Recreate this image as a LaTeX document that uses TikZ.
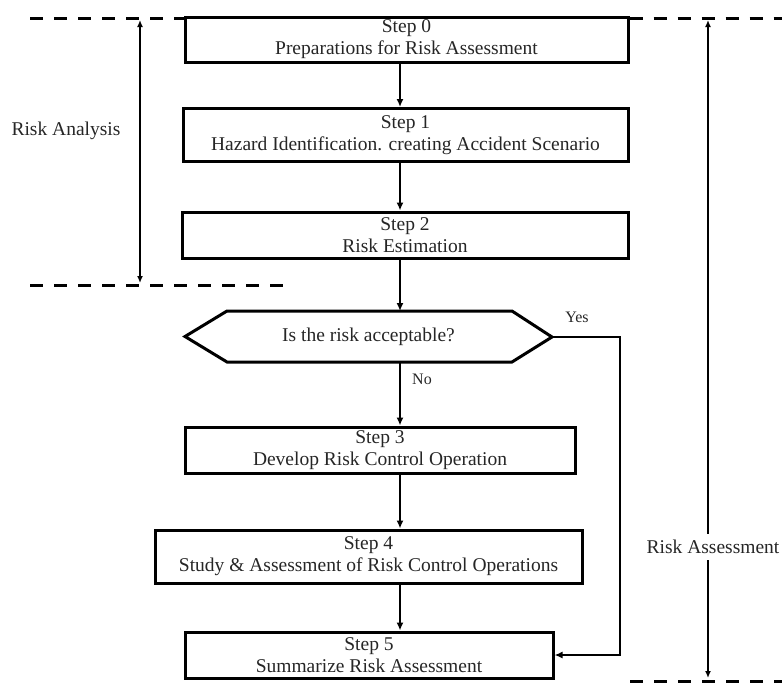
\documentclass[tikz,border=0pt]{standalone}
\usepackage{fontspec}
\setmainfont{Liberation Serif}
\usetikzlibrary{arrows.meta}
\begin{document}
\begin{tikzpicture}[x=1pt,y=-1pt,
  txt/.style={font=\fontsize{19.5}{22}\selectfont, text=black!85, inner sep=0pt},
  small/.style={font=\fontsize{16}{18}\selectfont, text=black!85, inner sep=0pt},
  stepbox/.style={txt, draw=black, line width=3pt, align=center},
  hexline/.style={draw=black, line width=3pt, line join=miter},
  flow/.style={line width=2.6pt, -{Latex[length=8pt,width=7pt]}},
  dimline/.style={line width=2.4pt, {Latex[length=7pt,width=6pt]}-{Latex[length=7pt,width=6pt]}},
  guide/.style={line width=3pt, dash pattern=on 13pt off 11pt}]
\useasboundingbox (0,0) rectangle (782,689);

% steps
\node[stepbox, minimum width=443pt, minimum height=45pt] (s0) at (406.5,39.5) {Step 0\\Preparations for Risk Assessment};
\node[stepbox, minimum width=445pt, minimum height=53pt] (s1) at (405.5,135) {Step 1\\Hazard Identification. creating Accident Scenario};
\node[stepbox, minimum width=446pt, minimum height=46pt] (s2) at (405,235) {Step 2\\Risk Estimation};
\node[stepbox, minimum width=390pt, minimum height=46pt] (s3) at (380,450) {Step 3\\Develop Risk Control Operation};
\node[stepbox, minimum width=427pt, minimum height=53pt] (s4) at (368.5,556.5) {Step 4\\Study \& Assessment of Risk Control Operations};
\node[stepbox, minimum width=368pt, minimum height=46pt] (s5) at (369,655) {Step 5\\Summarize Risk Assessment};

% decision
\coordinate (hL) at (185,336.5);
\coordinate (hTL) at (227,311);
\coordinate (hTR) at (512,311);
\coordinate (hR) at (552,337);
\coordinate (hBR) at (512,362);
\coordinate (hBL) at (227,362);
\draw[hexline] (hL) -- (hTL) -- (hTR) -- (hR) -- (hBR) -- (hBL) -- cycle;
\node[txt] (q) at (368.5,336.5) {Is the risk acceptable?};

% main flow
\coordinate (ax) at (400,0);
\draw[flow] (s0.south -| ax) -- (s1.north -| ax);
\draw[flow] (s1.south -| ax) -- (s2.north -| ax);
\draw[flow] (s2.south -| ax) -- (hTL -| ax);
\draw[flow] (hBL -| ax) -- (s3.north -| ax);
\draw[flow] (s3.south -| ax) -- (s4.north -| ax);
\draw[flow] (s4.south -| ax) -- (s5.north -| ax);
\node[small, anchor=west] (no) at (412,379) {No};

% yes branch
\coordinate (yc) at (620,337);
\draw[flow] (hR) -- (yc) -- (yc |- s5.east) -- (s5.east);
\node[small] (yes) at (577,317) {Yes};

% guide lines
\coordinate (gl1) at (30,18);
\coordinate (gr1) at (782,18);
\coordinate (gl2a) at (30,285);
\coordinate (gl2b) at (285,285);
\coordinate (gr2a) at (630,681);
\coordinate (gr2b) at (782,681);
\draw[guide] (gl1) -- (gl1 -| s0.west);
\draw[guide] (gr1 -| s0.east) -- (gr1);
\draw[guide] (gl2a) -- (gl2b);
\draw[guide] (gr2a) -- (gr2b);

% dimension arrows
\coordinate (da1) at (140,20);
\coordinate (da2) at (140,283);
\draw[dimline] (da1) -- (da2);
\node[txt] (ra) at (66,131) {Risk Analysis};

\coordinate (db1) at (708,20);
\coordinate (db2) at (708,678);
\draw[dimline] (db1) -- (db2);
\node[txt, fill=white, inner ysep=6pt, inner xsep=1pt] (rs) at (713,547) {Risk Assessment};
\end{tikzpicture}
\end{document}
